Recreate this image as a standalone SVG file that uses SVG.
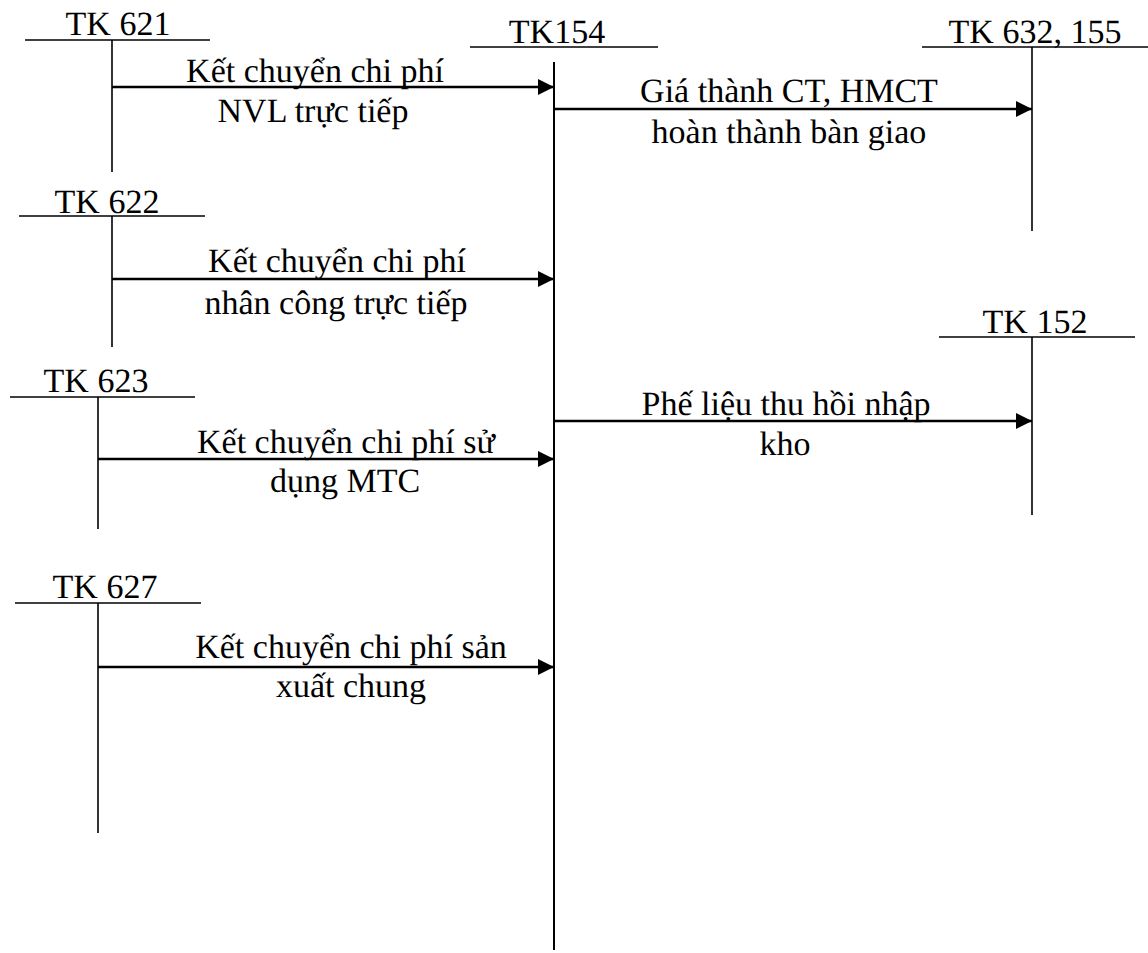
<svg xmlns="http://www.w3.org/2000/svg" width="1148" height="953" viewBox="0 0 1148 953">
<style>
text{font-family:"Liberation Serif","Times New Roman",serif;font-size:34px;fill:#000;text-anchor:middle;text-rendering:geometricPrecision}
.acc{stroke:#000;stroke-width:1.6;fill:none}
.main{stroke:#000;stroke-width:2;fill:none}
.arr{stroke:#000;stroke-width:2.6;fill:none;marker-end:url(#ah)}
</style>
<defs>
<marker id="ah" markerUnits="userSpaceOnUse" markerWidth="18" markerHeight="18" refX="16" refY="8" orient="auto">
<path d="M0,0 L16,8 L0,16 z" fill="#000"/>
</marker>
</defs>
<rect width="1148" height="953" fill="#fff"/>
<g id="tk621">
<line class="acc" x1="25" y1="40" x2="210" y2="40"/>
<line class="acc" x1="112" y1="40" x2="112" y2="172"/>
<text x="118" y="35">TK 621</text>
</g>
<g id="tk154">
<line class="acc" x1="470" y1="47" x2="658" y2="47"/>
<line class="main" x1="554" y1="62" x2="554" y2="950"/>
<text x="557" y="43">TK154</text>
</g>
<g id="tk632">
<line class="acc" x1="922" y1="47" x2="1148" y2="47"/>
<line class="acc" x1="1032" y1="47" x2="1032" y2="231"/>
<text x="1035" y="43">TK 632, 155</text>
</g>
<g id="tk622">
<line class="acc" x1="19" y1="216" x2="205" y2="216"/>
<line class="acc" x1="112" y1="216" x2="112" y2="347"/>
<text x="107" y="213">TK 622</text>
</g>
<g id="tk152">
<line class="acc" x1="939" y1="337" x2="1135" y2="337"/>
<line class="acc" x1="1032" y1="337" x2="1032" y2="515"/>
<text x="1035" y="333">TK 152</text>
</g>
<g id="tk623">
<line class="acc" x1="10" y1="397" x2="195" y2="397"/>
<line class="acc" x1="98" y1="397" x2="98" y2="529"/>
<text x="96" y="392">TK 623</text>
</g>
<g id="tk627">
<line class="acc" x1="15" y1="603" x2="201" y2="603"/>
<line class="acc" x1="98" y1="603" x2="98" y2="833"/>
<text x="105" y="598">TK 627</text>
</g>
<g id="connectors">
<line class="arr" x1="112" y1="87" x2="554" y2="87"/>
<line class="arr" x1="554" y1="109" x2="1032" y2="109"/>
<line class="arr" x1="112" y1="279" x2="554" y2="279"/>
<line class="arr" x1="554" y1="421" x2="1032" y2="421"/>
<line class="arr" x1="98" y1="459" x2="554" y2="459"/>
<line class="arr" x1="98" y1="667" x2="554" y2="667"/>
</g>
<g id="labels">
<text x="315" y="82">Kết chuyển chi phí</text>
<text x="313" y="122">NVL trực tiếp</text>
<text x="789" y="102">Giá thành CT, HMCT</text>
<text x="789" y="143">hoàn thành bàn giao</text>
<text x="337" y="272">Kết chuyển chi phí</text>
<text x="336" y="314">nhân công trực tiếp</text>
<text x="786" y="415">Phế liệu thu hồi nhập</text>
<text x="785" y="455">kho</text>
<text x="346" y="453">Kết chuyển chi phí sử</text>
<text x="345" y="492">dụng MTC</text>
<text x="351" y="658">Kết chuyển chi phí sản</text>
<text x="351" y="697">xuất chung</text>
</g>
</svg>
